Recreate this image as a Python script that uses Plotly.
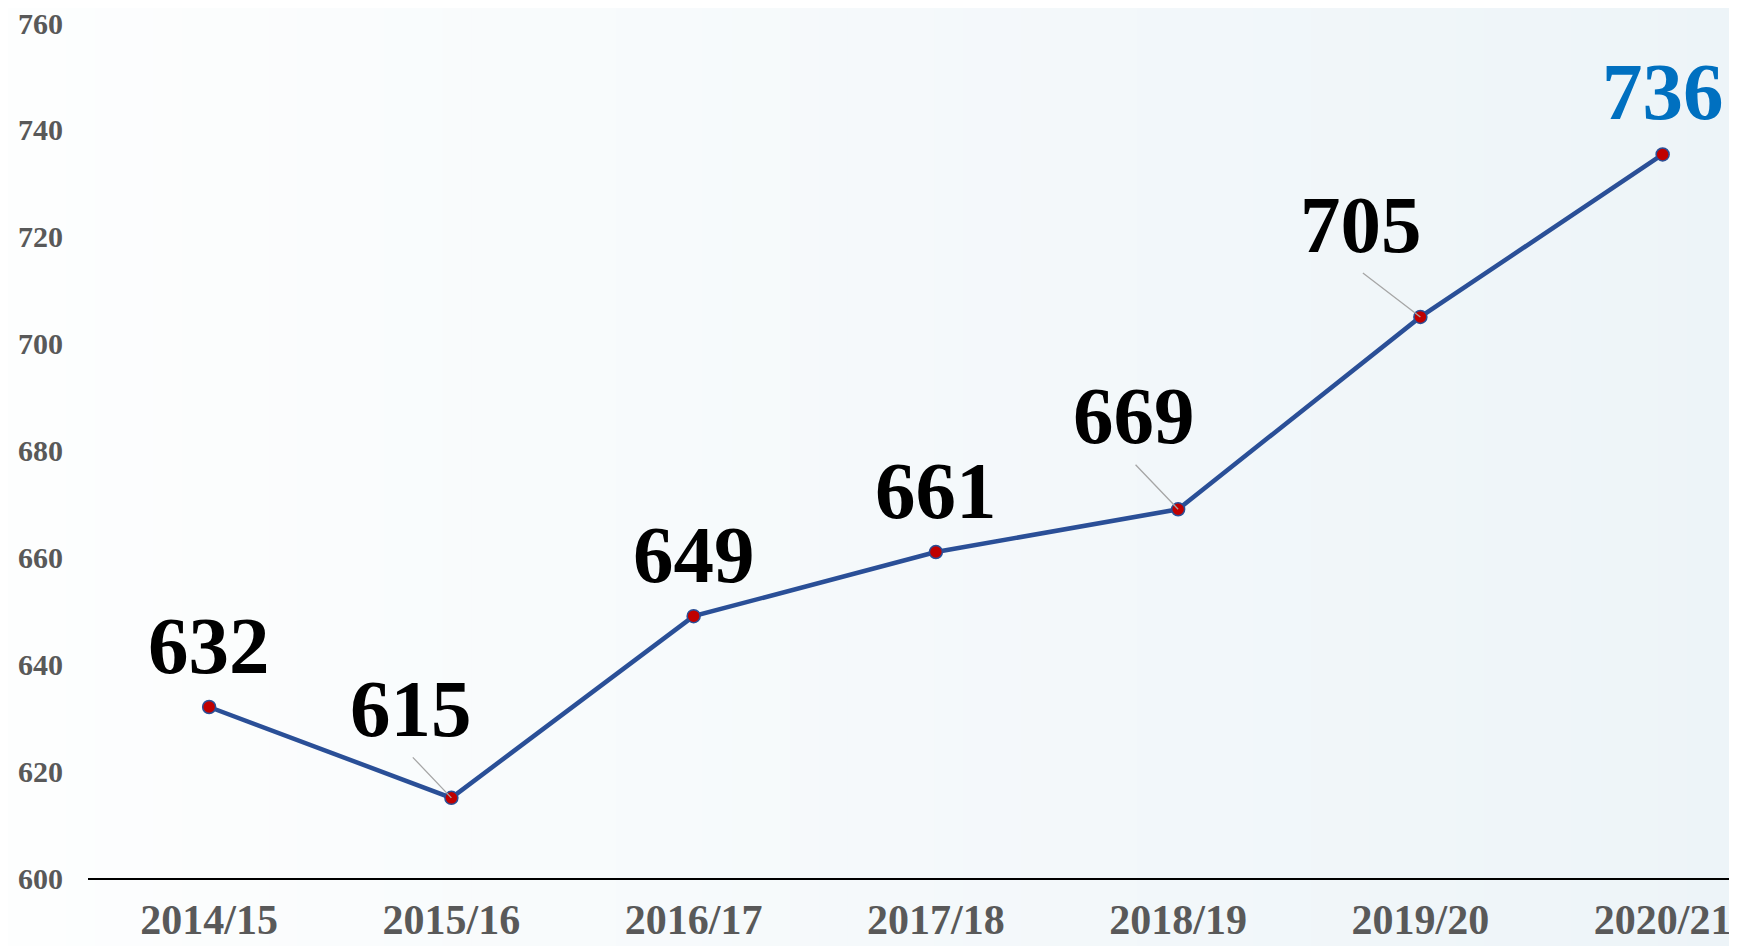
import plotly.graph_objects as go

categories = ["2014/15", "2015/16", "2016/17", "2017/18", "2018/19", "2019/20", "2020/21"]
values = [632, 615, 649, 661, 669, 705, 735.4]
value_labels = ["632", "615", "649", "661", "669", "705", "736"]
y_ticks = [600, 620, 640, 660, 680, 700, 720, 740, 760]

# label offsets (pixels) relative to the point
label_dx = [0, -40, 0, 0, -44, -59, 0]
label_dy = [61, 89, 61, 61, 93, 92, 62]
label_colors = ["#000000"] * 6 + ["#0070C0"]
# leader line start offsets (None = no leader)
leader_dx = [None, -40, None, None, -44, -59, None]
leader_dy = [None, -42, None, None, -46, -45, None]

W, H = 1737, 946
L, R, T, B = 80, 0, 15, 76
FONT = "Liberation Serif"

fig = go.Figure()

fig.add_trace(go.Scatter(
    x=list(range(len(categories))), y=values, mode="lines+markers",
    line=dict(color="#2A4F97", width=4.5),
    marker=dict(size=13, color="#C00000", line=dict(color="#2A4F97", width=1.5)),
    hoverinfo="skip", showlegend=False,
))

annotations = []
for i, v in enumerate(values):
    if leader_dx[i] is not None:
        annotations.append(dict(
            x=i, y=v, xref="x", yref="y", text="",
            showarrow=True, ax=leader_dx[i], ay=leader_dy[i],
            arrowhead=0, arrowwidth=1.3, standoff=0, arrowcolor="#A6A6A6",
        ))
    annotations.append(dict(
        x=i, y=v, xref="x", yref="y", text=value_labels[i], showarrow=False,
        xanchor="center", yanchor="middle",
        xshift=label_dx[i], yshift=label_dy[i],
        font=dict(family=FONT, size=81, color=label_colors[i], weight="bold"),
    ))

# background gradient
pw = W - L - R
ph = H - T - B
x_lo, x_hi = -L / pw, 1 + R / pw
y_lo, y_hi = -B / ph, 1 + T / ph
n = 60
shapes = []
c0 = (253, 254, 254)
c1 = (237, 244, 248)
for k in range(n):
    f = k / (n - 1)
    c = tuple(int(round(c0[j] + (c1[j] - c0[j]) * f)) for j in range(3))
    xa = x_lo + (x_hi - x_lo) * k / n
    xb = x_lo + (x_hi - x_lo) * (k + 1) / n + 0.002
    shapes.append(dict(type="rect", xref="paper", yref="paper", x0=xa, x1=xb,
                       y0=y_lo, y1=y_hi, fillcolor="rgb(%d,%d,%d)" % c,
                       line=dict(width=0), layer="below"))

fig.update_layout(
    width=W, height=H,
    margin=dict(l=L, r=R, t=T, b=B, autoexpand=False),
    paper_bgcolor="#F4F8FA", plot_bgcolor="rgba(0,0,0,0)",
    shapes=shapes, annotations=annotations,
    xaxis=dict(
        range=[-0.5, 6.34], tickmode="array", tickvals=list(range(len(categories))),
        ticktext=categories, showgrid=False, zeroline=False,
        showline=True, linecolor="#000000", linewidth=1.5, ticks="",
        tickfont=dict(family=FONT, size=42, color="#595959", weight="bold"),
        ticklabelstandoff=4, automargin=False, ticklabeloverflow="allow",
    ),
    yaxis=dict(
        range=[600, 760], tickmode="array", tickvals=y_ticks,
        showgrid=False, zeroline=False, showline=False, ticks="",
        tickfont=dict(family=FONT, size=30, color="#595959", weight="bold"),
        ticklabelstandoff=24, automargin=False, ticklabeloverflow="allow",
    ),
)

fig.write_html("out.html")
